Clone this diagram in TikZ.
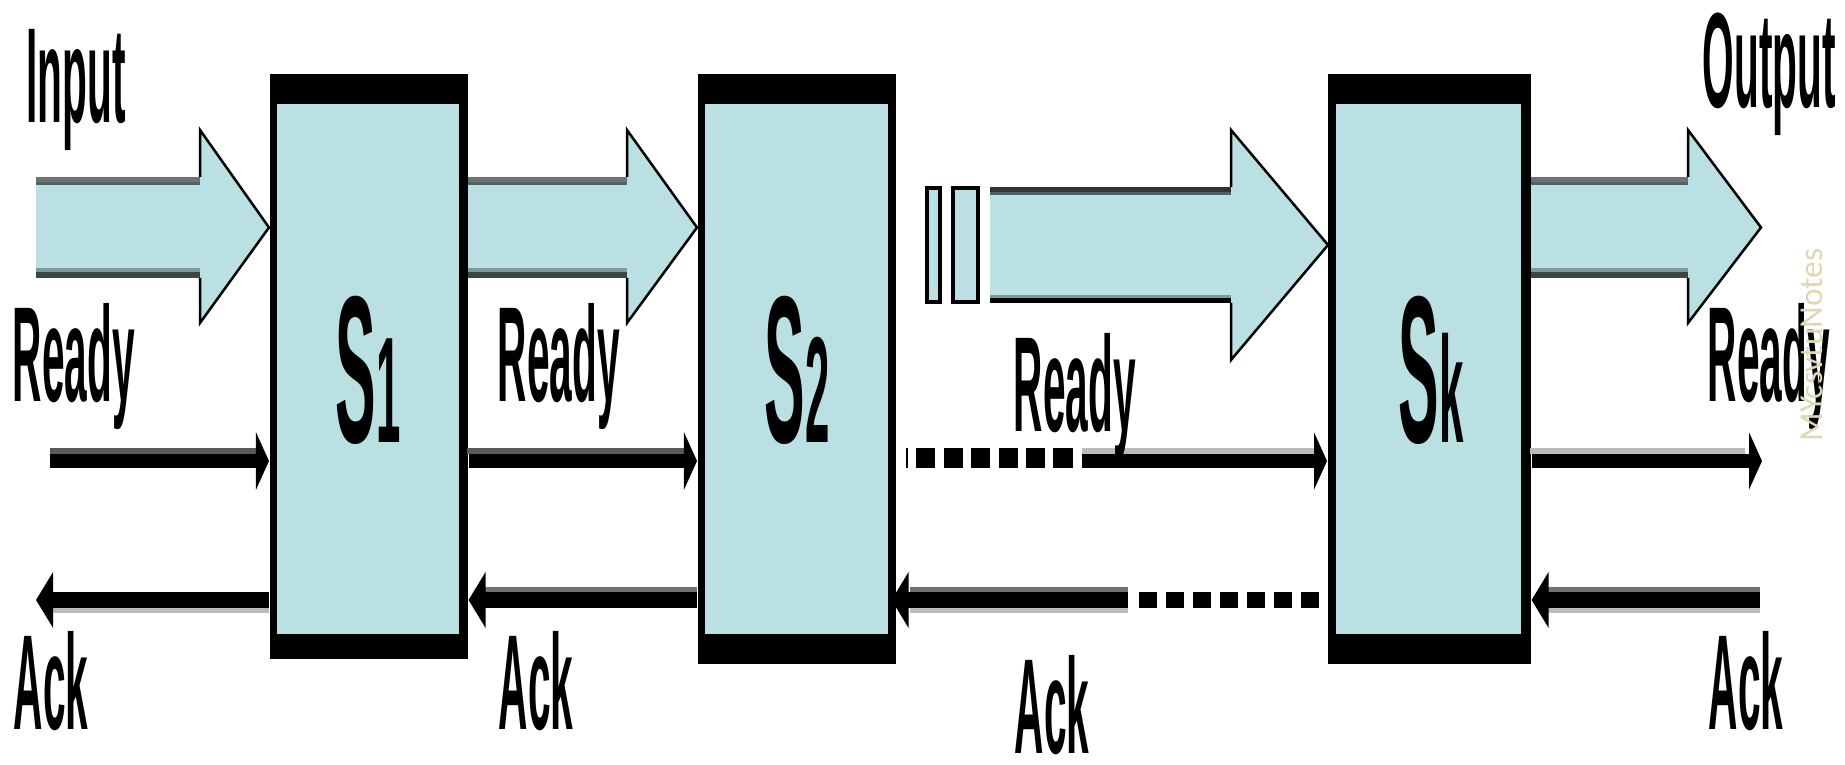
\documentclass[tikz,border=0pt]{standalone}
\usepackage{fontspec}
\usepackage{graphicx}
\setmainfont{Liberation Sans}
\newfontfamily\wmfont{Carlito}
\usetikzlibrary{arrows.meta}
\definecolor{stagefill}{RGB}{187,224,227}
\definecolor{bandA}{RGB}{112,112,112}
\definecolor{bandB}{RGB}{79,99,103}
\definecolor{bandC}{RGB}{128,154,156}
\definecolor{bandD}{RGB}{61,70,71}
\definecolor{shdark}{RGB}{90,90,90}
\definecolor{shmid}{RGB}{112,112,112}
\definecolor{shlight}{RGB}{187,187,187}
\definecolor{wm}{RGB}{220,217,180}
\newcommand{\fatarrow}[8]{%
  \fill[stagefill] (#1,#4) -- (#2,#4) -- (#2,#6) -- (#3,#8) -- (#2,#7) -- (#2,#5) -- (#1,#5) -- cycle;
  \draw[black, line width=0.025cm, line join=miter] (#2,#4) -- (#2,#6) -- (#3,#8) -- (#2,#7) -- (#2,#5);
}
\newcommand{\narrowtext}[1]{\scalebox{0.30}[1]{#1}}
\newcommand{\stagelabel}[2]{\scalebox{0.29}[1]{\fontsize{59.6}{60}\selectfont #1\fontsize{42.9}{43}\selectfont #2}}
\tikzset{
  stagebox/.style={rectangle, fill=black, inner sep=0pt, anchor=north west},
  lab/.style={inner sep=0pt, anchor=base west, font=\bfseries\fontsize{38.5}{40}\selectfont},
  slab/.style={inner sep=0pt, anchor=base, font=\bfseries},
  rdyline/.style={line width=0.14cm, -{Triangle[length=0.13cm, width=0.57cm]}},
  ackline/.style={line width=0.16cm, -{Triangle[length=0.17cm, width=0.55cm]}},
  dashrdy/.style={line width=0.20cm, dash pattern=on 0.19cm off 0.084cm, dash phase=0.17cm},
  dashack/.style={line width=0.16cm, dash pattern=on 0.18cm off 0.09cm},
}
\begin{document}
\begin{tikzpicture}[x=0.01cm, y=-0.01cm]
\useasboundingbox[fill=white] (0,0) rectangle (1845,765);

% big data arrows
\fatarrow{36}{200}{269}{177}{278}{130}{323}{227.5}
\fill[bandA] (36,177) rectangle (200,182); \fill[bandB] (36,182) rectangle (200,185);
\fill[bandC] (36,268) rectangle (200,272); \fill[bandD] (36,272) rectangle (200,278);

\fatarrow{467}{627}{697}{177}{278}{130}{323}{227.5}
\fill[bandA] (467,177) rectangle (627,182); \fill[bandB] (467,182) rectangle (627,185);
\fill[bandC] (467,268) rectangle (627,272); \fill[bandD] (467,272) rectangle (627,278);

\fatarrow{990}{1231}{1328}{187}{303}{130}{360}{245}
\fill[black!80] (990,187) rectangle (1231,192); \fill[bandB] (990,192) rectangle (1231,195);
\fill[bandC] (990,295) rectangle (1231,298); \fill[black] (990,298) rectangle (1231,303);

\fatarrow{1530}{1688}{1761}{177}{278}{130}{323}{227.5}
\fill[bandA] (1530,177) rectangle (1688,182); \fill[bandB] (1530,182) rectangle (1688,185);
\fill[bandC] (1530,268) rectangle (1688,272); \fill[bandD] (1530,272) rectangle (1688,278);

% broken arrow pieces
\draw[line width=0.035cm, fill=stagefill] (927,188) rectangle (940,302);
\draw[line width=0.035cm, fill=stagefill] (953,188) rectangle (978,302);

% stages
\node[stagebox, minimum width=1.98cm, minimum height=5.85cm] (s1) at (269,73) {};
\node[stagebox, minimum width=1.98cm, minimum height=5.90cm] (s2) at (697,73) {};
\node[stagebox, minimum width=2.03cm, minimum height=5.90cm] (sk) at (1327,73) {};
\fill[stagefill] (277,104) rectangle (459,634);
\fill[stagefill] (705,104) rectangle (888,634);
\fill[stagefill] (1336,104) rectangle (1521,634);

\node[slab] (s1lab) at (368,443) {\stagelabel{S}{1}};
\node[slab] (s2lab) at (797,443) {\stagelabel{S}{2}};
\node[slab] (sklab) at (1431,443) {\stagelabel{S}{k}};

% helper coordinates
\coordinate (rdy) at (0,461);
\coordinate (ack) at (0,600);
\coordinate (rdyin) at (50,461);
\coordinate (rdyout) at (1762,461);
\coordinate (rdymid) at (1082,461);
\coordinate (ackout) at (36,600);
\coordinate (ackin) at (1760,600);
\coordinate (ackmid) at (1128,600);

% ready shadows
\draw[shdark, line width=0.06cm] (50,451) -- (257,451);
\draw[shdark, line width=0.06cm] (467,451) -- (685,451);
\draw[shlight, line width=0.06cm] (1082,451) -- (1315,451);
\draw[shlight, line width=0.06cm] (1530,451) -- (1745,451);
% ack shadows
\draw[shlight, line width=0.05cm] (53,610.5) -- (269,610.5);
\draw[shmid, line width=0.05cm] (481,589.5) -- (697,589.5);
\draw[shmid, line width=0.05cm] (910,589.5) -- (1128,589.5);
\draw[shlight, line width=0.05cm] (910,610.5) -- (1128,610.5);
\draw[shmid, line width=0.05cm] (1545,589.5) -- (1760,589.5);
\draw[shlight, line width=0.05cm] (1545,610.5) -- (1760,610.5);

% ready connectors
\draw[rdyline] (rdyin) -- (rdyin -| s1.west);
\draw[rdyline] (s1.east |- rdy) -- (s2.west |- rdy);
\draw[dashrdy] (906,458) -- (1073,458);
\draw[rdyline] (rdymid) -- (sk.west |- rdy);
\draw[rdyline] (sk.east |- rdy) -- (rdyout);

% ack connectors
\draw[ackline] (s1.west |- ack) -- (ackout);
\draw[ackline] (s2.west |- ack) -- (s1.east |- ack);
\draw[dashack] (1139,600) -- (1320,600);
\draw[ackline] (ackmid) -- ([xshift=-0.05cm]s2.east |- ack);
\draw[ackline] (ackin) -- (sk.east |- ack);

% labels
\node[lab] (lin) at (26,123) {\narrowtext{Input}};
\node[lab] (lout) at (1702,108) {\narrowtext{Output}};
\node[lab] (r1) at (12,402) {\narrowtext{Ready}};
\node[lab] (r2) at (497,402) {\narrowtext{Ready}};
\node[lab] (r3) at (1013,432) {\narrowtext{Ready}};
\node[lab] (r4) at (1707,402) {\narrowtext{Ready}};
\node[lab] (a1) at (13,730) {\narrowtext{Ack}};
\node[lab] (a2) at (498,730) {\narrowtext{Ack}};
\node[lab] (a3) at (1014,754) {\narrowtext{Ack}};
\node[lab] (a4) at (1708,730) {\narrowtext{Ack}};

% watermark
\node[rotate=90, anchor=base west, inner sep=0pt, text=wm, font=\wmfont\fontsize{9.5}{10}\selectfont] (wmark) at (1822,442) {MYcsvtuNotes};
\end{tikzpicture}
\end{document}
